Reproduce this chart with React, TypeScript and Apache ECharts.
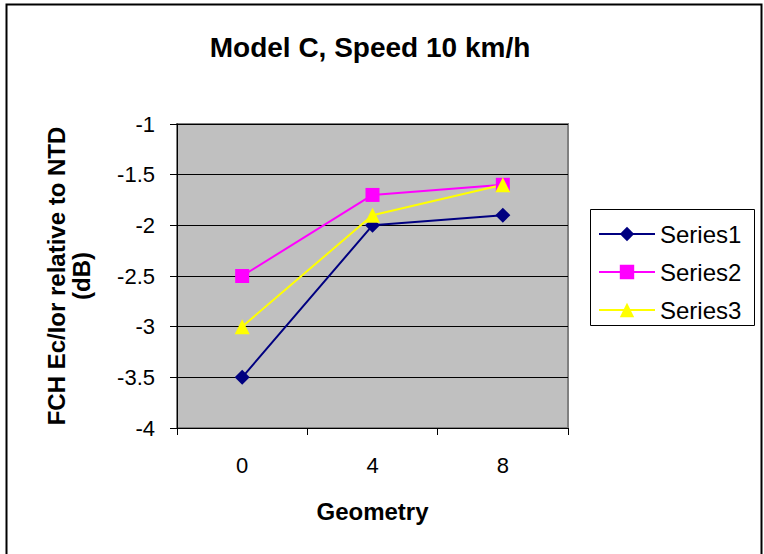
import React, { useEffect, useRef } from "react";
import * as echarts from "echarts";

const categories = ["0", "4", "8"];
const series1 = [-3.5, -2.0, -1.9];
const series2 = [-2.5, -1.7, -1.6];
const series3 = [-3.0, -1.9, -1.6];
const seriesNames = ["Series1", "Series2", "Series3"];
const titleText = "Model C, Speed 10 km/h";
const yAxisTitle = "FCH Ec/Ior relative to NTD\n(dB)";
const xAxisTitle = "Geometry";

const FONT = "Arial, 'Liberation Sans', sans-serif";

export default function App() {
  const ref = useRef<HTMLDivElement>(null);
  useEffect(() => {
    if (!ref.current) return;
    const chart = echarts.init(ref.current, undefined, { renderer: "svg" });
    const mk = (name: string, data: number[], color: string, symbol: string, size: number) => ({
      name,
      type: "line",
      data,
      symbol,
      symbolSize: size,
      lineStyle: { color, width: 2 },
      itemStyle: { color, borderWidth: 0 },
      emphasis: { disabled: true },
    });
    chart.setOption({
      animation: false,
      backgroundColor: "#ffffff",
      textStyle: { fontFamily: FONT },
      graphic: [
        {
          type: "rect",
          shape: { x: 6.5, y: 4.5, width: 755, height: 580 },
          style: { fill: "none", stroke: "#000", lineWidth: 2 },
          z: 0,
        },
        {
          type: "rect",
          shape: { x: 590.5, y: 209.5, width: 164, height: 116 },
          style: { fill: "#fff", stroke: "#000", lineWidth: 1 },
          z: 1,
        },
        {
          type: "text",
          x: 370,
          y: 47,
          style: {
            text: titleText,
            fill: "#000",
            font: `bold 28px ${FONT}`,
            align: "center",
            verticalAlign: "middle",
          },
        },
        {
          type: "text",
          x: 69,
          y: 276,
          rotation: Math.PI / 2,
          style: {
            text: yAxisTitle,
            fill: "#000",
            font: `bold 24px ${FONT}`,
            align: "center",
            verticalAlign: "middle",
            lineHeight: 25,
          },
        },
      ],
      grid: {
        left: 177,
        top: 124,
        width: 391,
        height: 304,
        show: true,
        backgroundColor: "#C0C0C0",
        borderColor: "#808080",
        borderWidth: 2,
        containLabel: false,
      },
      legend: {
        orient: "vertical",
        left: 593,
        top: 217,
        itemWidth: 56,
        itemHeight: 18,
        itemGap: 14,
        data: seriesNames,
        textStyle: { fontSize: 24, color: "#000", fontFamily: FONT, lineHeight: 22 },
        z: 5,
      },
      xAxis: {
        type: "category",
        data: categories,
        boundaryGap: true,
        axisLine: { show: true, lineStyle: { color: "#000", width: 1 } },
        axisTick: { show: true, length: 7, inside: false, lineStyle: { color: "#000" } },
        axisLabel: { fontSize: 22, color: "#000", margin: 26, fontFamily: FONT },
        splitLine: { show: false },
        name: xAxisTitle,
        nameLocation: "middle",
        nameGap: 71,
        nameTextStyle: { fontSize: 24, fontWeight: "bold", color: "#000", fontFamily: FONT },
      },
      yAxis: {
        type: "value",
        min: -4,
        max: -1,
        interval: 0.5,
        axisLine: { show: true, lineStyle: { color: "#000", width: 1 } },
        axisTick: { show: true, length: 7, inside: false, lineStyle: { color: "#000" } },
        axisLabel: { fontSize: 22, color: "#000", margin: 22, fontFamily: FONT },
        splitLine: { show: true, lineStyle: { color: "#000", width: 1 } },
      },
      series: [
        mk(seriesNames[0], series1, "#000080", "diamond", 15),
        mk(seriesNames[1], series2, "#FF00FF", "rect", 14),
        mk(seriesNames[2], series3, "#FFFF00", "triangle", 15),
      ],
    });
    return () => chart.dispose();
  }, []);
  return (
    <div
      ref={ref}
      style={{ position: "fixed", left: 0, top: 0, width: 764, height: 554 }}
    />
  );
}
